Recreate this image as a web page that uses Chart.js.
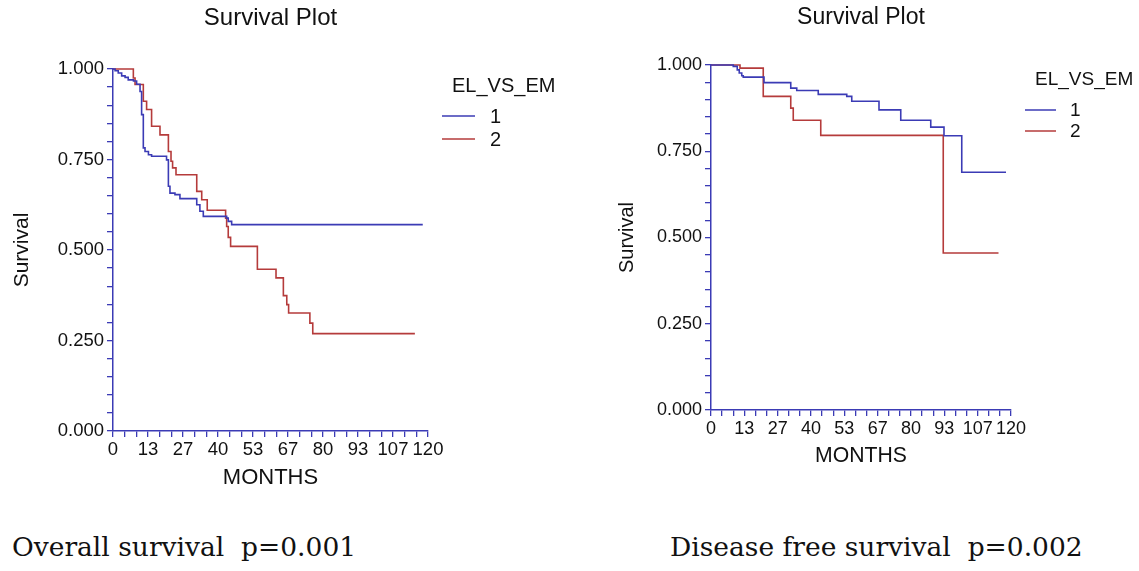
<!DOCTYPE html>
<html>
<head>
<meta charset="utf-8">
<script src="https://cdn.jsdelivr.net/npm/chart.js@4.4.1/dist/chart.umd.min.js"></script>
<style>
html,body{margin:0;padding:0;background:#fff;}
#wrap{position:relative;width:1139px;height:571px;overflow:hidden;background:#fff;}
.cv{position:absolute;top:0;}
.cap{position:absolute;font-family:"DejaVu Serif","Liberation Serif",serif;color:#111;white-space:pre;line-height:1;}
</style>
</head>
<body>
<div id="wrap">
  <div class="cv" style="left:0;"><canvas id="os" width="570" height="500"></canvas></div>
  <div class="cv" style="left:570px;"><canvas id="dfs" width="569" height="500"></canvas></div>
  <div class="cap" id="cap1" style="left:12px;top:534px;font-size:26.5px;">Overall survival  p=0.001</div>
  <div class="cap" id="cap2" style="left:670px;top:534px;font-size:26.5px;">Disease free survival  p=0.002</div>
</div>
<script>
// ---------- data ----------
const groupLabels = ['1', '2'];
const legendTitle = 'EL_VS_EM';
const chartTitle = 'Survival Plot';
const xAxisTitle = 'MONTHS';
const yAxisTitle = 'Survival';
const xTickLabels = ['0', '13', '27', '40', '53', '67', '80', '93', '107', '120'];
const yTickLabels = ['0.000', '0.250', '0.500', '0.750', '1.000'];

// Overall survival, group 1 (blue)
const osMonths1 = [0, 0.8, 2.0, 3.3, 4.6, 5.8, 7.8, 9.0, 10.3, 10.9, 11.55, 12.2, 13.5, 14.7, 20.4, 21.1, 21.7, 23.6, 25.5, 31.9, 33.1, 34.4, 43.3, 43.9, 45.2, 118];
const osSurv1   = [1, 0.995, 0.989, 0.981, 0.977, 0.970, 0.967, 0.958, 0.938, 0.874, 0.782, 0.772, 0.763, 0.759, 0.749, 0.676, 0.657, 0.653, 0.642, 0.625, 0.607, 0.593, 0.588, 0.579, 0.570, 0.570];
// Overall survival, group 2 (red)
const osMonths2 = [0, 7.75, 8.4, 11.55, 12.8, 14.7, 17.9, 21.1, 22.1, 22.7, 24.0, 31.9, 33.8, 35.9, 42.9, 43.3, 43.9, 44.8, 55.0, 62.1, 64.9, 66.2, 66.9, 75.0, 76.1, 115];
const osSurv2   = [1, 0.975, 0.957, 0.911, 0.888, 0.842, 0.818, 0.772, 0.745, 0.727, 0.708, 0.662, 0.639, 0.610, 0.588, 0.565, 0.535, 0.510, 0.447, 0.423, 0.374, 0.349, 0.326, 0.298, 0.269, 0.269];
// Disease free survival, group 1 (blue)
const dfsMonths1 = [0, 8.9, 10.5, 11.3, 12.3, 12.9, 21.2, 31.9, 34.3, 42.9, 54.3, 56.3, 67.2, 75.9, 87.9, 93.2, 100.3, 118];
const dfsSurv1   = [1, 0.996, 0.986, 0.977, 0.969, 0.965, 0.949, 0.933, 0.926, 0.915, 0.909, 0.895, 0.870, 0.840, 0.820, 0.795, 0.689, 0.689];
// Disease free survival, group 2 (red)
const dfsMonths2 = [0, 11.6, 20.9, 31.9, 32.9, 43.9, 92.9, 115];
const dfsSurv2   = [1, 0.991, 0.909, 0.875, 0.840, 0.796, 0.455, 0.455];

// ---------- styling ----------
const FONT = '"Liberation Sans", Arial, Helvetica, sans-serif';
const BLUE = '#3b3bb5';
const RED = '#b53b3b';
const TEXT = '#111111';
const X_MAX = 120, X_DIV = 27, X_LABEL_EVERY = 3;
const Y_DIV = 20, Y_LABEL_EVERY = 5;

// legend drawn to the right of the plot, KM style
const kmLegendPlugin = {
  id: 'kmLegend',
  afterDraw(chart, args, o) {
    const ctx = chart.ctx, ca = chart.chartArea;
    ctx.save();
    ctx.fillStyle = TEXT;
    ctx.font = o.size + 'px ' + FONT;
    ctx.textBaseline = 'middle';
    ctx.textAlign = 'left';
    ctx.fillText(legendTitle, ca.right + o.titleDx, ca.top + o.titleDy);
    chart.data.datasets.forEach((ds, i) => {
      const y = ca.top + o.itemDy + i * o.itemGap;
      ctx.strokeStyle = ds.borderColor;
      ctx.lineWidth = 1.5;
      ctx.beginPath();
      ctx.moveTo(ca.right + o.lineDx, y);
      ctx.lineTo(ca.right + o.lineDx + o.lineLen, y);
      ctx.stroke();
      ctx.fillText(ds.label, ca.right + o.textDx, y + 1);
    });
    ctx.restore();
  }
};

// center the chart title over the plot area instead of the whole canvas
const centerTitlePlugin = {
  id: 'centerTitle',
  afterLayout(chart) {
    const t = chart.titleBlock;
    if (t) { t.left = chart.chartArea.left; t.right = chart.chartArea.right; }
  }
};

function pts(m, s) { return m.map((x, i) => ({ x: x, y: s[i] })); }

function makeChart(id, m1, s1, m2, s2, L) {
  const xVals = [], yVals = [];
  for (let i = 0; i <= X_DIV; i++) xVals.push(i * X_MAX / X_DIV);
  for (let i = 0; i <= Y_DIV; i++) yVals.push(i / Y_DIV);
  const ds = (label, data, color) => ({
    label: label, data: data, borderColor: color, backgroundColor: color,
    borderWidth: 1.6, stepped: true, pointRadius: 0, fill: false, tension: 0, clip: 6
  });
  return new Chart(document.getElementById(id), {
    type: 'line',
    data: { datasets: [ds(groupLabels[0], pts(m1, s1), BLUE), ds(groupLabels[1], pts(m2, s2), RED)] },
    options: {
      responsive: false, animation: false, events: [],
      layout: { padding: { left: 0, top: 0, right: L.padRight, bottom: 0 } },
      plugins: {
        legend: { display: false },
        tooltip: { enabled: false },
        title: {
          display: true, text: chartTitle, color: TEXT,
          font: { family: FONT, size: L.titleSize, weight: 'normal', lineHeight: 1.2 },
          padding: { top: L.titleTop, bottom: L.titleBottom }
        },
        kmLegend: L.legend
      },
      scales: {
        x: {
          type: 'linear', min: 0, max: X_MAX,
          afterFit: s => { s.height = L.xHeight; },
          afterBuildTicks: s => { s.ticks = xVals.map(v => ({ value: v })); },
          ticks: {
            autoSkip: false, maxRotation: 0, minRotation: 0, padding: 2, color: TEXT,
            font: { family: FONT, size: L.tickSize },
            callback: (v, i) => (i % X_LABEL_EVERY === 0 ? xTickLabels[i / X_LABEL_EVERY] : '')
          },
          grid: { drawOnChartArea: false, drawTicks: true, tickLength: 6, color: BLUE, lineWidth: 1.3 },
          border: { display: true, color: BLUE, width: 1.5 },
          title: {
            display: true, text: xAxisTitle, color: TEXT,
            font: { family: FONT, size: L.xAxisSize, lineHeight: 1.2 },
            padding: { top: 0, bottom: L.xTitleBottom }
          }
        },
        y: {
          type: 'linear', min: 0, max: 1,
          afterFit: s => { s.width = L.yWidth; },
          afterBuildTicks: s => { s.ticks = yVals.map(v => ({ value: v })); },
          ticks: {
            autoSkip: false, padding: 3, color: TEXT,
            font: { family: FONT, size: L.tickSize },
            callback: (v, i) => (i % Y_LABEL_EVERY === 0 ? yTickLabels[i / Y_LABEL_EVERY] : '')
          },
          grid: { drawOnChartArea: false, drawTicks: true, tickLength: 6, color: BLUE, lineWidth: 1.3 },
          border: { display: true, color: BLUE, width: 1.5 },
          title: {
            display: true, text: yAxisTitle, color: TEXT,
            font: { family: FONT, size: L.yAxisSize, lineHeight: 1.2 },
            padding: { top: L.yTitleTop, bottom: 0 }
          }
        }
      }
    },
    plugins: [kmLegendPlugin, centerTitlePlugin]
  });
}

makeChart('os', osMonths1, osSurv1, osMonths2, osSurv2, {
  padRight: 142, titleSize: 24, titleTop: 3.6, titleBottom: 36.6,
  xHeight: 69, yWidth: 113, tickSize: 18.5, xAxisSize: 22, yAxisSize: 21,
  xTitleBottom: 8.8, yTitleTop: 9.4,
  legend: { size: 20, titleDx: 24, titleDy: 17, itemDy: 47, itemGap: 23, lineDx: 14, lineLen: 33, textDx: 62 }
});

makeChart('dfs', dfsMonths1, dfsSurv1, dfsMonths2, dfsSurv2, {
  padRight: 128, titleSize: 23, titleTop: 4.2, titleBottom: 33.2,
  xHeight: 90, yWidth: 141, tickSize: 18, xAxisSize: 21.2, yAxisSize: 20,
  xTitleBottom: 31.3, yTitleTop: 45,
  legend: { size: 19, titleDx: 24, titleDy: 15, itemDy: 45, itemGap: 21, lineDx: 14, lineLen: 31, textDx: 59 }
});
</script>
</body>
</html>
